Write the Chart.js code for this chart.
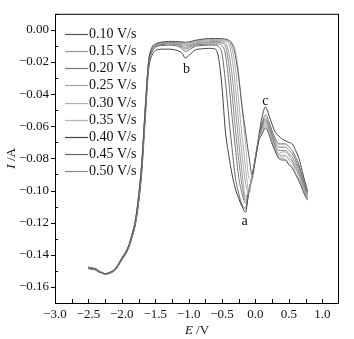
<!DOCTYPE html>
<html>
<head>
<meta charset="utf-8">
<script src="https://cdn.jsdelivr.net/npm/chart.js@4.4.1/dist/chart.umd.min.js"></script>
<style>
  html, body { margin: 0; padding: 0; background: #fff; }
  #wrap { width: 354px; height: 339px; }
</style>
</head>
<body>
<div id="wrap"><canvas id="cv" width="354" height="339"></canvas></div>
<script>
// potential sweep (V), shared by every curve
const potential = [-2.50, -2.45, -2.40, -2.35, -2.30, -2.25, -2.20, -2.10, -2.00, -1.90, -1.85, -1.80, -1.75, -1.70, -1.65, -1.60,
  -1.55, -1.50, -1.45, -1.40, -1.30, -1.20, -1.10, -1.05, -1.00, -0.90, -0.80, -0.70,
  -0.60, -0.55, -0.50, -0.45, -0.40, -0.35, -0.30, -0.25, -0.20, -0.15, -0.10, -0.05,
  0.00, 0.05, 0.10, 0.15, 0.20, 0.25, 0.30, 0.35, 0.40, 0.45, 0.50, 0.55, 0.60, 0.65, 0.70, 0.75, 0.78];

// current (A) per scan rate
const i010 = [-0.1481, -0.1488, -0.1487, -0.1506, -0.1512, -0.1517, -0.1512, -0.1487, -0.1420, -0.1345, -0.1275, -0.1192, -0.1038, -0.0818, -0.0488, -0.0200,
  -0.0110, -0.0088, -0.0080, -0.0076, -0.0072, -0.0072, -0.0075, -0.0077, -0.0075, -0.0065, -0.0058, -0.0054,
  -0.0054, -0.0054, -0.0055, -0.0058, -0.0065, -0.0090, -0.0160, -0.0300, -0.0480, -0.0630, -0.0780, -0.0900,
  -0.0800, -0.0690, -0.0650, -0.0610, -0.0650, -0.0710, -0.0760, -0.0800, -0.0810, -0.0810, -0.0840, -0.0860, -0.0900, -0.0940, -0.0990, -0.1040, -0.1060];
const i015 = [-0.1490, -0.1485, -0.1492, -0.1496, -0.1509, -0.1519, -0.1515, -0.1489, -0.1424, -0.1349, -0.1279, -0.1198, -0.1048, -0.0828, -0.0498, -0.0208,
  -0.0120, -0.0097, -0.0088, -0.0085, -0.0079, -0.0080, -0.0090, -0.0100, -0.0095, -0.0082, -0.0077, -0.0074,
  -0.0072, -0.0072, -0.0075, -0.0082, -0.0140, -0.0280, -0.0490, -0.0700, -0.0890, -0.1040, -0.1000, -0.0910,
  -0.0800, -0.0680, -0.0610, -0.0570, -0.0610, -0.0670, -0.0730, -0.0770, -0.0760, -0.0760, -0.0780, -0.0810, -0.0850, -0.0890, -0.0950, -0.1010, -0.1040];
const i020 = [-0.1488, -0.1478, -0.1490, -0.1505, -0.1508, -0.1518, -0.1514, -0.1490, -0.1425, -0.1350, -0.1282, -0.1202, -0.1055, -0.0838, -0.0508, -0.0215,
  -0.0130, -0.0105, -0.0095, -0.0092, -0.0088, -0.0090, -0.0105, -0.0120, -0.0112, -0.0094, -0.0090, -0.0088,
  -0.0088, -0.0088, -0.0098, -0.0150, -0.0320, -0.0540, -0.0740, -0.0920, -0.1020, -0.1080, -0.1010, -0.0910,
  -0.0800, -0.0680, -0.0590, -0.0550, -0.0590, -0.0650, -0.0700, -0.0730, -0.0730, -0.0730, -0.0750, -0.0770, -0.0810, -0.0860, -0.0920, -0.0990, -0.1020];
const i025 = [-0.1483, -0.1480, -0.1497, -0.1503, -0.1511, -0.1520, -0.1514, -0.1489, -0.1423, -0.1348, -0.1278, -0.1196, -0.1045, -0.0825, -0.0495, -0.0206,
  -0.0118, -0.0094, -0.0086, -0.0082, -0.0077, -0.0078, -0.0085, -0.0092, -0.0088, -0.0076, -0.0070, -0.0067,
  -0.0066, -0.0065, -0.0068, -0.0072, -0.0085, -0.0180, -0.0360, -0.0580, -0.0780, -0.0950, -0.1020, -0.0910,
  -0.0800, -0.0680, -0.0620, -0.0580, -0.0620, -0.0680, -0.0740, -0.0780, -0.0780, -0.0780, -0.0800, -0.0820, -0.0860, -0.0900, -0.0960, -0.1020, -0.1040];
const i030 = [-0.1476, -0.1493, -0.1486, -0.1499, -0.1514, -0.1519, -0.1513, -0.1488, -0.1422, -0.1347, -0.1277, -0.1195, -0.1043, -0.0822, -0.0492, -0.0204,
  -0.0115, -0.0092, -0.0084, -0.0080, -0.0076, -0.0076, -0.0081, -0.0085, -0.0082, -0.0071, -0.0065, -0.0061,
  -0.0060, -0.0060, -0.0062, -0.0065, -0.0072, -0.0120, -0.0240, -0.0450, -0.0660, -0.0850, -0.1000, -0.0910,
  -0.0800, -0.0680, -0.0630, -0.0590, -0.0630, -0.0690, -0.0750, -0.0790, -0.0790, -0.0790, -0.0810, -0.0830, -0.0870, -0.0910, -0.0970, -0.1020, -0.1050];
const i035 = [-0.1486, -0.1479, -0.1494, -0.1502, -0.1507, -0.1518, -0.1513, -0.1488, -0.1421, -0.1346, -0.1276, -0.1193, -0.1040, -0.0820, -0.0490, -0.0202,
  -0.0112, -0.0090, -0.0082, -0.0078, -0.0074, -0.0074, -0.0078, -0.0080, -0.0078, -0.0068, -0.0061, -0.0057,
  -0.0056, -0.0055, -0.0056, -0.0060, -0.0065, -0.0078, -0.0130, -0.0280, -0.0490, -0.0700, -0.0920, -0.0940,
  -0.0800, -0.0685, -0.0640, -0.0600, -0.0640, -0.0700, -0.0760, -0.0800, -0.0800, -0.0810, -0.0830, -0.0850, -0.0890, -0.0930, -0.0980, -0.1030, -0.1050];
const i040 = [-0.1480, -0.1492, -0.1488, -0.1502, -0.1512, -0.1522, -0.1518, -0.1495, -0.1432, -0.1360, -0.1295, -0.1220, -0.1085, -0.0880, -0.0560, -0.0250,
  -0.0160, -0.0130, -0.0122, -0.0120, -0.0120, -0.0125, -0.0145, -0.0175, -0.0160, -0.0125, -0.0118, -0.0115,
  -0.0120, -0.0180, -0.0360, -0.0630, -0.0780, -0.0900, -0.0990, -0.1050, -0.1100, -0.1135, -0.1010, -0.0910,
  -0.0790, -0.0660, -0.0540, -0.0480, -0.0530, -0.0590, -0.0640, -0.0660, -0.0680, -0.0690, -0.0700, -0.0710, -0.0750, -0.0800, -0.0880, -0.0960, -0.1000];
const i045 = [-0.1475, -0.1482, -0.1495, -0.1498, -0.1510, -0.1520, -0.1515, -0.1490, -0.1428, -0.1352, -0.1285, -0.1205, -0.1060, -0.0845, -0.0515, -0.0220,
  -0.0140, -0.0110, -0.0100, -0.0098, -0.0095, -0.0098, -0.0115, -0.0135, -0.0125, -0.0102, -0.0097, -0.0095,
  -0.0095, -0.0105, -0.0150, -0.0320, -0.0540, -0.0740, -0.0920, -0.1020, -0.1090, -0.1110, -0.1010, -0.0910,
  -0.0800, -0.0670, -0.0580, -0.0530, -0.0570, -0.0630, -0.0680, -0.0710, -0.0710, -0.0710, -0.0730, -0.0750, -0.0790, -0.0840, -0.0910, -0.0980, -0.1010];
const i050 = [-0.1478, -0.1490, -0.1483, -0.1500, -0.1513, -0.1521, -0.1516, -0.1491, -0.1426, -0.1351, -0.1280, -0.1200, -0.1050, -0.0830, -0.0500, -0.0210,
  -0.0125, -0.0100, -0.0090, -0.0088, -0.0082, -0.0084, -0.0097, -0.0110, -0.0102, -0.0087, -0.0082, -0.0080,
  -0.0078, -0.0078, -0.0082, -0.0100, -0.0210, -0.0400, -0.0620, -0.0810, -0.0970, -0.1060, -0.1000, -0.0910,
  -0.0800, -0.0680, -0.0600, -0.0560, -0.0600, -0.0660, -0.0720, -0.0750, -0.0750, -0.0750, -0.0770, -0.0790, -0.0830, -0.0880, -0.0940, -0.1000, -0.1030];

const scanRates = ['0.10 V/s', '0.15 V/s', '0.20 V/s', '0.25 V/s', '0.30 V/s', '0.35 V/s', '0.40 V/s', '0.45 V/s', '0.50 V/s'];
const currents = [i010, i015, i020, i025, i030, i035, i040, i045, i050];

const xTicks = [-3.0, -2.5, -2.0, -1.5, -1.0, -0.5, 0.0, 0.5, 1.0];
const yTicks = [0.00, -0.02, -0.04, -0.06, -0.08, -0.10, -0.12, -0.14, -0.16];

// peak labels
const peakNames = ['a', 'b', 'c'];
const peakE = [-0.164, -1.034, 0.149];
const peakI = [-0.119, -0.0244, -0.0445];

const lineColors = ['#555555', '#969696', '#767676', '#a6a6a6', '#adadad', '#b6b6b6', '#424242', '#666666', '#888888'];
const SERIF = '"Liberation Serif", "Times New Roman", serif';

const minus = (s) => s.replace('-', '\u2212');

// frame, tick marks, axis titles, legend and peak labels
const decor = {
  id: 'decor',
  afterDraw(chart) {
    const { ctx, chartArea: a, scales: { x, y } } = chart;
    ctx.save();
    ctx.strokeStyle = '#000';
    ctx.lineWidth = 1;
    ctx.strokeRect(a.left + 0.5, a.top + 0.5, a.right - a.left - 1, a.bottom - a.top);

    ctx.beginPath();
    xTicks.forEach((v, k) => {
      const px = Math.round(x.getPixelForValue(v)) + 0.5;
      ctx.moveTo(px, a.bottom); ctx.lineTo(px, a.bottom - 4);
      if (k < xTicks.length - 1) {
        const pm = Math.round(x.getPixelForValue((v + xTicks[k + 1]) / 2)) + 0.5;
        ctx.moveTo(pm, a.bottom); ctx.lineTo(pm, a.bottom - 4);
      }
    });
    yTicks.forEach((v) => {
      const py = Math.round(y.getPixelForValue(v)) + 0.5;
      ctx.moveTo(a.left, py); ctx.lineTo(a.left - 4, py);
      const pm = Math.round(y.getPixelForValue(v + 0.01)) + 0.5;
      ctx.moveTo(a.left, pm); ctx.lineTo(a.left + 3, pm);
    });
    ctx.stroke();

    ctx.fillStyle = '#111';
    ctx.textBaseline = 'middle';
    ctx.textAlign = 'left';
    // x title
    ctx.font = 'italic 13px ' + SERIF;
    const w1 = ctx.measureText('E').width;
    ctx.font = '13px ' + SERIF;
    const w2 = ctx.measureText(' /V').width;
    const sx = (a.left + a.right) / 2 - (w1 + w2) / 2;
    ctx.font = 'italic 13px ' + SERIF;
    ctx.fillText('E', sx, 331);
    ctx.font = '13px ' + SERIF;
    ctx.fillText(' /V', sx + w1, 331);
    // y title
    ctx.save();
    ctx.translate(12, (a.top + a.bottom) / 2);
    ctx.rotate(-Math.PI / 2);
    ctx.font = 'italic 13px ' + SERIF;
    const v1 = ctx.measureText('I').width;
    ctx.font = '13px ' + SERIF;
    const v2 = ctx.measureText(' /A').width;
    ctx.font = 'italic 13px ' + SERIF;
    ctx.fillText('I', -(v1 + v2) / 2, 0);
    ctx.font = '13px ' + SERIF;
    ctx.fillText(' /A', -(v1 + v2) / 2 + v1, 0);
    ctx.restore();

    // legend
    chart.data.datasets.forEach((ds, k) => {
      const ly = Math.round(34.3 + 17.05 * k) + 0.5;
      ctx.strokeStyle = ds.borderColor;
      ctx.lineWidth = 1.2;
      ctx.beginPath(); ctx.moveTo(65, ly); ctx.lineTo(88, ly); ctx.stroke();
      ctx.fillStyle = '#111';
      ctx.font = '14px ' + SERIF;
      ctx.fillText(ds.label, 89, ly);
    });

    // peak labels
    ctx.textAlign = 'center';
    ctx.font = '14px ' + SERIF;
    peakNames.forEach((t, k) => {
      ctx.fillText(t, x.getPixelForValue(peakE[k]), y.getPixelForValue(peakI[k]));
    });
    ctx.restore();
  }
};

new Chart(document.getElementById('cv'), {
  type: 'line',
  data: {
    datasets: currents.map((arr, k) => ({
      label: scanRates[k],
      data: potential.map((e, j) => ({ x: e, y: arr[j] })),
      borderColor: lineColors[k],
      borderWidth: 1,
      pointRadius: 0,
      fill: false,
      cubicInterpolationMode: 'monotone'
    }))
  },
  options: {
    responsive: false,
    animation: false,
    devicePixelRatio: 1,
    layout: { padding: { left: 0, right: 15, top: 9, bottom: 0 } },
    plugins: { legend: { display: false }, tooltip: { enabled: false } },
    scales: {
      x: {
        type: 'linear', min: -3.0, max: 1.25,
        afterBuildTicks: (s) => { s.ticks = xTicks.map(v => ({ value: v })); },
        afterFit: (s) => { s.height = 36; },
        grid: { display: false, drawTicks: false },
        border: { display: false },
        ticks: {
          padding: 4, color: '#111', maxRotation: 0, autoSkip: false,
          font: { family: SERIF, size: 13 },
          callback: (v) => minus(Number(v).toFixed(1))
        }
      },
      y: {
        type: 'linear', min: -0.17, max: 0.01,
        afterBuildTicks: (s) => { s.ticks = yTicks.map(v => ({ value: v })); },
        afterFit: (s) => { s.width = 55; },
        grid: { display: false, drawTicks: false },
        border: { display: false },
        ticks: {
          padding: 6, color: '#111', autoSkip: false,
          font: { family: SERIF, size: 13 },
          callback: (v) => minus(Number(v).toFixed(2))
        }
      }
    }
  },
  plugins: [decor]
});
</script>
</body>
</html>
